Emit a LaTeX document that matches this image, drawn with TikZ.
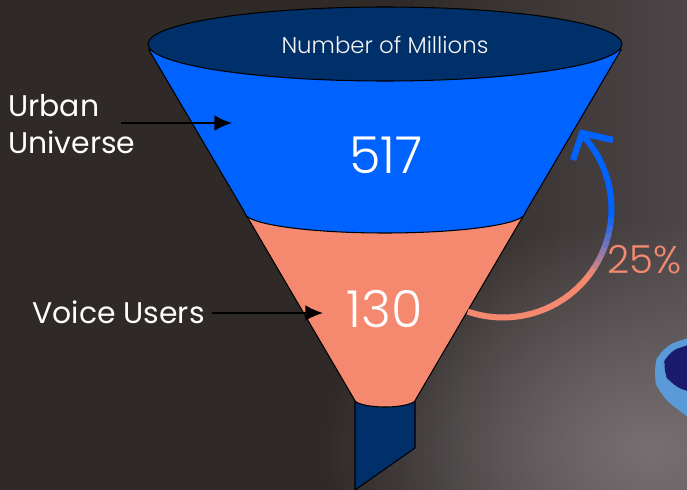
\documentclass[tikz,border=0pt]{standalone}
\usepackage{fontspec}
\setmainfont{Poppins}
\IfFontExistsTF{Poppins Light}{\newfontfamily\thinfont{Poppins Light}}{\newfontfamily\thinfont{Poppins}}
\usetikzlibrary{arrows.meta,fadings,calc}
\definecolor{bgdark}{HTML}{2F2A28}
\definecolor{bgright}{HTML}{4D4547}
\definecolor{bglight}{HTML}{767073}
\definecolor{navy}{HTML}{00306A}
\definecolor{brightblue}{HTML}{0062FF}
\definecolor{salmon}{HTML}{F4896F}
\definecolor{phoneedge}{HTML}{5A9AD8}
\definecolor{phonenavy}{HTML}{1A1A6E}
\tikzfading[name=glow,inner color=transparent!0,outer color=transparent!100]
\tikzset{funnel line/.style={draw=black,line width=0.6pt}}
\tikzset{pointer/.style={line width=1.2pt,-{Latex[length=10pt,width=9pt]}}}
\tikzset{side label/.style={text=white,font=\fontsize{17}{21.5}\selectfont,inner sep=0pt}}
\tikzset{count/.style={text=white,font=\thinfont\fontsize{29}{30}\selectfont,anchor=base,inner sep=0pt}}

\begin{document}
\begin{tikzpicture}[x=0.02cm,y=-0.02cm]
	\useasboundingbox (0,0) rectangle (687,490);
	% background
	\fill [bgdark] (0,0) rectangle (687,490);
	\shade [left color=bgdark,right color=bgright] (400,0) rectangle (687,490);
	\fill [bglight,path fading=glow] (650,450) ellipse [x radius=330,y radius=230];
	\fill [phoneedge,rounded corners=9] (700,334) -- (661,347) -- (652,372) -- (660,396) -- (700,426) -- cycle;
	\fill [phonenavy,rounded corners=7] (700,341) -- (667,352) -- (662,370) -- (672,386) -- (700,395) -- cycle;

	% corners of the funnel
	\coordinate (tl) at (149,50);
	\coordinate (tr) at (621,50);
	\coordinate (ml) at (245,213);
	\coordinate (mr) at (525,213);
	\coordinate (bl) at (354,399);
	\coordinate (br) at (416,399);

	\filldraw [funnel line,fill=navy] (355,390) -- (355,490) -- (415,448) -- (415,390) -- cycle; % spout
	\filldraw [funnel line,fill=salmon] (ml) -- (bl) arc [start angle=180,end angle=0,x radius=31,y radius=8] -- (mr) -- cycle;
	\filldraw [funnel line,fill=brightblue] (tl) -- (ml) arc [start angle=180,end angle=0,x radius=140,y radius=20] -- (tr) -- cycle;
	\filldraw [funnel line,fill=navy] (385,44) ellipse [x radius=237,y radius=37];

	\node [text=white!92!gray,font=\thinfont\fontsize{13}{14}\selectfont,anchor=base,inner sep=0pt] (head) at (385,53) {Number of Millions};
	\node [count] (big) at (386,173) {517};
	\node [count] (small) at (385,327) {130};

	% labels on the left
	\node [side label,align=left,anchor=west] (urban) at (8,124) {Urban\\Universe};
	\node [side label,anchor=base west] (voice) at (32,323) {Voice Users};
	\coordinate (urban from) at (121,123);
	\coordinate (urban tip) at (232,123);
	\coordinate (voice tip) at (323,313);
	\draw [pointer] (urban from) -- (urban tip);
	\draw [pointer] ([xshift=4pt]voice.east |- voice tip) -- (voice tip);

	% growth arrow, salmon to blue
	\coordinate (turn) at (503,209);
	\foreach \a in {109,105,...,-39}{
		\pgfmathtruncatemacro\mix{max(0,min(100,(40-\a)*100/35))}
		\draw [line width=3.4pt,brightblue!\mix!salmon] (turn) ++(\a:108.5) arc [start angle=\a,delta angle=-4.4,radius=108.5];
	}
	\coordinate (head tip) at (582,133);
	\draw [line width=3.6pt,brightblue] (573,160) -- (head tip) -- (613,140);
	\node [text=salmon,font=\thinfont\fontsize{22}{24}\selectfont,anchor=base west,inner sep=0pt] (share) at (607,273) {25\%};
\end{tikzpicture}
\end{document}
